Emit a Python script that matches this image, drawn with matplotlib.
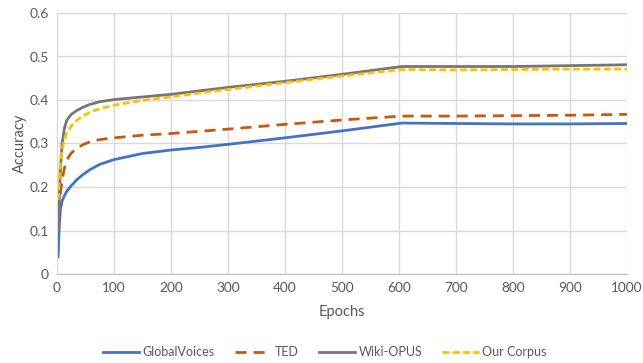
import matplotlib
matplotlib.use("Agg")
from matplotlib import pyplot as plt
import numpy as np

epochs = [2, 4, 6, 9, 13, 17, 25, 35, 45, 58, 75, 100, 150, 200, 250, 300, 400, 500, 605, 700, 800, 900, 1000]

global_voices = [0.04, 0.11, 0.15, 0.168, 0.18, 0.19, 0.203, 0.217, 0.228, 0.24, 0.252, 0.263, 0.277, 0.285, 0.291, 0.298, 0.313, 0.329, 0.347, 0.346, 0.345, 0.345, 0.346]
ted = [0.10, 0.15, 0.185, 0.216, 0.243, 0.262, 0.278, 0.289, 0.297, 0.304, 0.309, 0.313, 0.319, 0.323, 0.328, 0.333, 0.344, 0.354, 0.363, 0.363, 0.364, 0.365, 0.367]
wiki_opus = [0.10, 0.17, 0.24, 0.30, 0.335, 0.353, 0.367, 0.376, 0.383, 0.39, 0.396, 0.401, 0.407, 0.413, 0.421, 0.429, 0.443, 0.459, 0.477, 0.477, 0.477, 0.479, 0.481]
our_corpus = [0.17, 0.22, 0.255, 0.285, 0.31, 0.323, 0.34, 0.353, 0.363, 0.372, 0.38, 0.388, 0.399, 0.407, 0.416, 0.424, 0.44, 0.455, 0.470, 0.469, 0.470, 0.471, 0.471]

plt.rcParams['font.family'] = ['Lato', 'DejaVu Sans']
txt = '#595959'

fig = plt.figure(figsize=(6.43, 3.63), dpi=100)
ax = fig.add_axes([57/643, 89/363, 570/643, 261/363])

ax.plot(epochs, global_voices, color='#4472C4', linewidth=2, label='GlobalVoices')
ax.plot(epochs, ted, color='#C55A11', linewidth=2, dashes=(4, 2.5), label='TED')
ax.plot(epochs, wiki_opus, color='#767676', linewidth=2, label='Wiki-OPUS')
ax.plot(epochs, our_corpus, color='#FFC000', linewidth=2, dashes=(2.5, 1.2), label='Our Corpus')

ax.set_xlim(0, 1000)
ax.set_ylim(0, 0.6)
ax.set_xticks(np.arange(0, 1001, 100))
ax.set_yticks(np.arange(0, 0.61, 0.1))
ax.set_yticklabels(['0', '0.1', '0.2', '0.3', '0.4', '0.5', '0.6'])
ax.grid(True, color='#D9D9D9', linewidth=1)
ax.set_axisbelow(True)
for s in ['top', 'right']:
    ax.spines[s].set_visible(False)
ax.spines['left'].set_color('#D9D9D9')
ax.spines['bottom'].set_color('#BFBFBF')
ax.tick_params(length=0, labelsize=10, colors=txt, pad=6)
ax.tick_params(axis='x', labelsize=9.8)

ax.set_xlabel('Epochs', fontsize=10.5, color=txt, labelpad=8)
ax.set_ylabel('Accuracy', fontsize=10.5, color=txt, labelpad=2)

fig.legend(loc='center', bbox_to_anchor=(0.505, 11/363), ncol=4, frameon=False,
           fontsize=9, labelcolor=txt, handlelength=2.9, columnspacing=1.6, handletextpad=0.3)

plt.savefig('out.png', dpi=100)
